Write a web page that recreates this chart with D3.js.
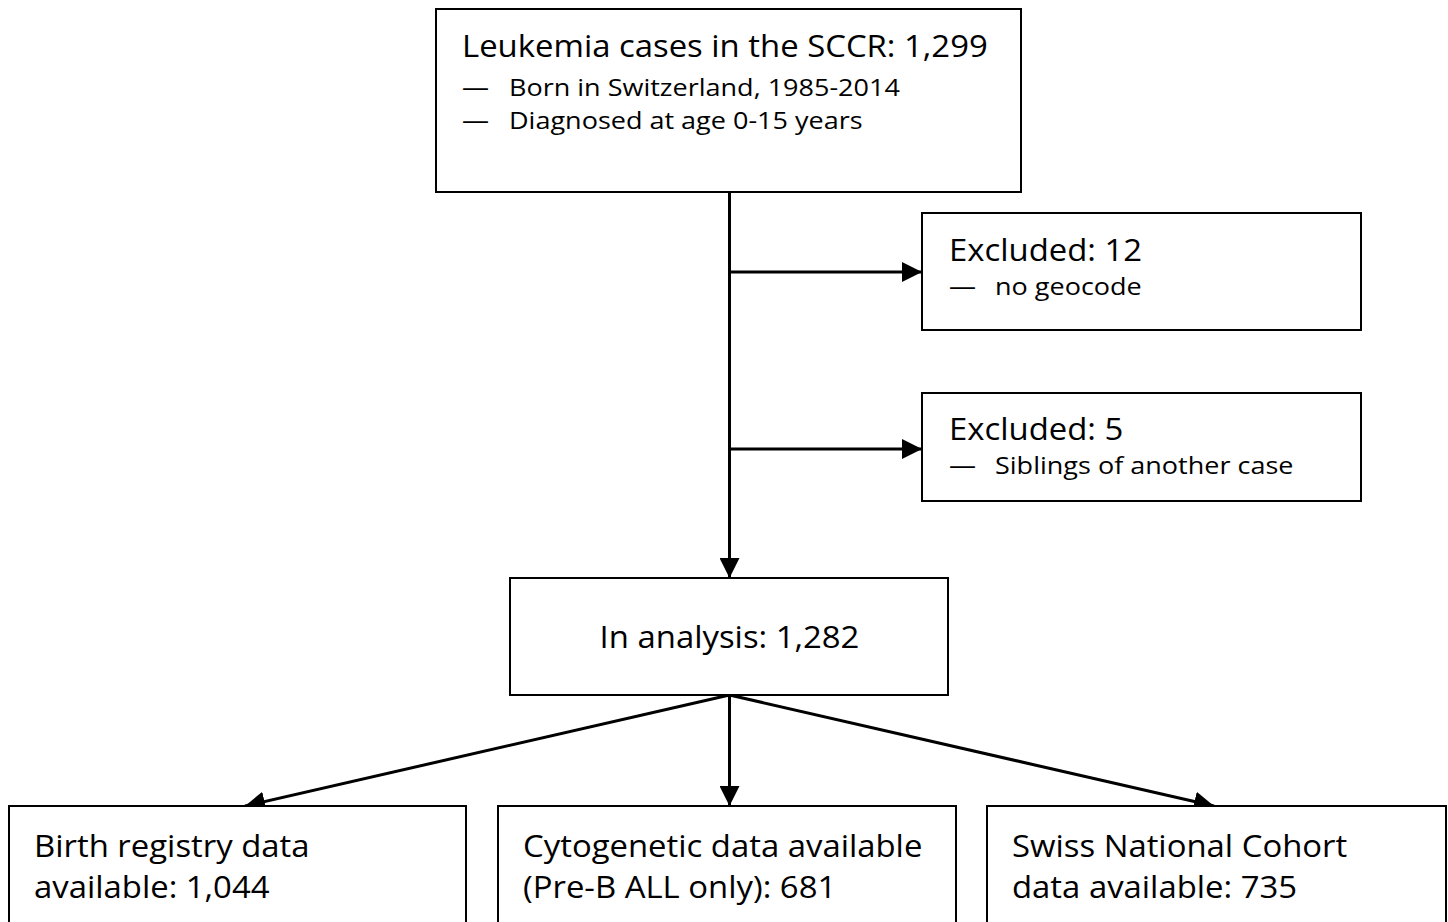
<!DOCTYPE html>
<html>
<head>
<meta charset="utf-8">
<script src="https://cdn.jsdelivr.net/npm/d3@7"></script>
<style>
  body { margin: 0; background: #fff; }
  svg text { font-family: "Open Sans", Lato, sans-serif; fill: #000; }
  .box { fill: #fff; stroke: #000; stroke-width: 2; }
  .link { stroke: #000; stroke-width: 3; fill: none; }
</style>
</head>
<body>
<script>
// ------------------------------------------------------------
// Study flow chart: childhood leukemia cases in the SCCR
// ------------------------------------------------------------

// Values
var stepTitles = ["Leukemia cases in the SCCR", "Excluded", "Excluded", "In analysis"];
var stepCounts = [1299, 12, 5, 1282];
var stepNotes = [
    ["Born in Switzerland, 1985-2014", "Diagnosed at age 0-15 years"],
    ["no geocode"],
    ["Siblings of another case"],
    []
];
var subsetFirstLines = ["Birth registry data", "Cytogenetic data available", "Swiss National Cohort"];
var subsetSecondLines = ["available", "(Pre-B ALL only)", "data available"];
var subsetCounts = [1044, 681, 735];

var fmt = d3.format(",");

var w = 1448, h = 922;
var svg = d3.select("body").append("svg")
    .attr("width", w)
    .attr("height", h);

var defs = svg.append("defs");
defs.append("marker")
    .attr("id", "head")
    .attr("viewBox", "0 0 20 20")
    .attr("refX", 20)
    .attr("refY", 10)
    .attr("markerWidth", 20)
    .attr("markerHeight", 20)
    .attr("markerUnits", "userSpaceOnUse")
    .attr("orient", "auto")
    .append("path")
    .attr("d", "M0,0 L20,10 L0,20 Z")
    .attr("fill", "#000");

// Layout (pixel boxes)
var boxes = [
    { x: 436, y: 9,   w: 585, h: 183 },   // total
    { x: 922, y: 213, w: 439, h: 117 },   // excluded 1
    { x: 922, y: 393, w: 439, h: 108 },   // excluded 2
    { x: 510, y: 578, w: 438, h: 117 }    // in analysis
];
var subBoxes = [
    { x: 9,   y: 806, w: 457, h: 140 },
    { x: 498, y: 806, w: 458, h: 140 },
    { x: 987, y: 806, w: 459, h: 140 }
];
var spineX = 729.5;

var bigSize = 31, smallSize = 23;

// horizontal stretch factors, taken from the top box lines
function natural(size, str) {
    var t = svg.append("text").style("font-size", size + "px").text(str);
    var len = t.node().getComputedTextLength();
    t.remove();
    return len;
}
var sxBig = 526 / natural(bigSize, stepTitles[0] + ": " + fmt(stepCounts[0]));
var sxSmall = 391 / natural(smallSize, stepNotes[0][0]);

function label(x, y, size, str, anchor) {
    var sx = size === bigSize ? sxBig : sxSmall;
    svg.append("text")
        .attr("transform", "translate(" + x + "," + y + ") scale(" + sx + ",1)")
        .attr("text-anchor", anchor || "start")
        .style("font-size", size + "px")
        .text(str);
}

// Connectors
svg.append("line").attr("class", "link")
    .attr("x1", spineX).attr("y1", boxes[0].y + boxes[0].h)
    .attr("x2", spineX).attr("y2", boxes[3].y)
    .attr("marker-end", "url(#head)");

[272, 449].forEach(function(yy, i) {
    svg.append("line").attr("class", "link")
        .attr("x1", spineX).attr("y1", yy)
        .attr("x2", boxes[i + 1].x).attr("y2", yy)
        .attr("marker-end", "url(#head)");
});

var tipX = [245, spineX, 1214];
subBoxes.forEach(function(b, i) {
    svg.append("line").attr("class", "link")
        .attr("x1", spineX).attr("y1", boxes[3].y + boxes[3].h)
        .attr("x2", tipX[i]).attr("y2", b.y)
        .attr("marker-end", "url(#head)");
});

// Boxes
boxes.concat(subBoxes).forEach(function(b) {
    svg.append("rect").attr("class", "box")
        .attr("x", b.x).attr("y", b.y)
        .attr("width", b.w).attr("height", b.h);
});

// Top box text
label(462, 57, bigSize, stepTitles[0] + ": " + fmt(stepCounts[0]));
stepNotes[0].forEach(function(t, j) {
    var yy = 96 + j * 33;
    label(462, yy, smallSize, "\u2014");
    label(509, yy, smallSize, t);
});

// Excluded boxes
var exclBase = [261, 440];
[1, 2].forEach(function(k, i) {
    label(949, exclBase[i], bigSize, stepTitles[k] + ": " + fmt(stepCounts[k]));
    stepNotes[k].forEach(function(t) {
        label(949, exclBase[i] + 34, smallSize, "\u2014");
        label(995, exclBase[i] + 34, smallSize, t);
    });
});

// In analysis
label(spineX, 648, bigSize, stepTitles[3] + ": " + fmt(stepCounts[3]), "middle");

// Subset boxes
subBoxes.forEach(function(b, i) {
    label(b.x + 25, 857, bigSize, subsetFirstLines[i]);
    label(b.x + 25, 898, bigSize, subsetSecondLines[i] + ": " + fmt(subsetCounts[i]));
});
</script>
</body>
</html>
